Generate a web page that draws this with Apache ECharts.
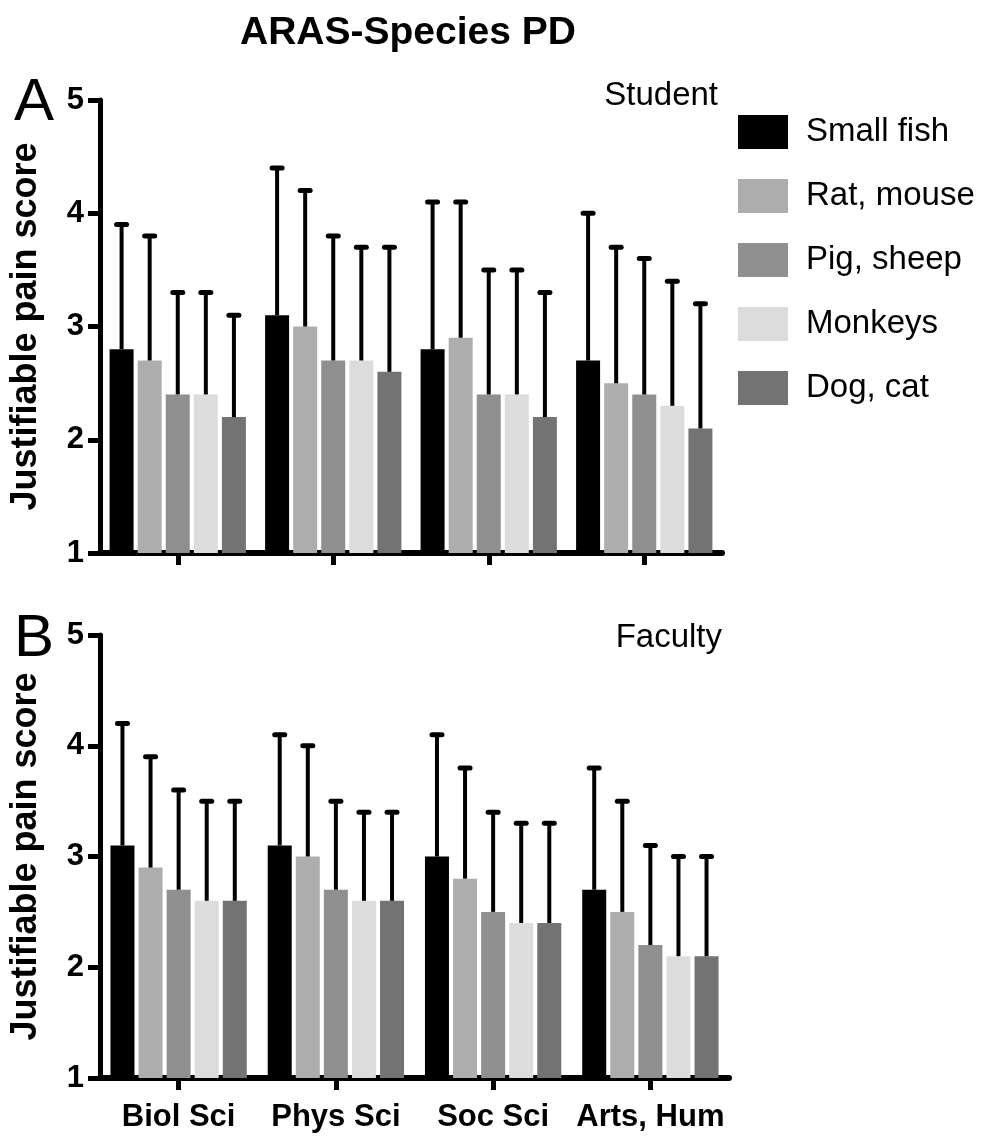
<!DOCTYPE html>
<html>
<head>
<meta charset="utf-8">
<script src="https://cdn.jsdelivr.net/npm/echarts@6/dist/echarts.min.js"></script>
<style>
html,body{margin:0;padding:0;background:#fff;}
#chart{width:993px;height:1137px;}
</style>
</head>
<body>
<div id="chart"></div>
<script>
// ---- data ----
const categories = ['Biol Sci', 'Phys Sci', 'Soc Sci', 'Arts, Hum'];
const species = ['Small fish', 'Rat, mouse', 'Pig, sheep', 'Monkeys', 'Dog, cat'];
const yTicks = [1, 2, 3, 4, 5];

// Student (panel A): means per species, per category
const studentMean = [
  [2.8, 3.1, 2.8, 2.7],  // Small fish
  [2.7, 3.0, 2.9, 2.5],  // Rat, mouse
  [2.4, 2.7, 2.4, 2.4],  // Pig, sheep
  [2.4, 2.7, 2.4, 2.3],  // Monkeys
  [2.2, 2.6, 2.2, 2.1]   // Dog, cat
];
const studentUpper = [
  [3.9, 4.4, 4.1, 4.0],
  [3.8, 4.2, 4.1, 3.7],
  [3.3, 3.8, 3.5, 3.6],
  [3.3, 3.7, 3.5, 3.4],
  [3.1, 3.7, 3.3, 3.2]
];
// Faculty (panel B)
const facultyMean = [
  [3.1, 3.1, 3.0, 2.7],
  [2.9, 3.0, 2.8, 2.5],
  [2.7, 2.7, 2.5, 2.2],
  [2.6, 2.6, 2.4, 2.1],
  [2.6, 2.6, 2.4, 2.1]
];
const facultyUpper = [
  [4.2, 4.1, 4.1, 3.8],
  [3.9, 4.0, 3.8, 3.5],
  [3.6, 3.5, 3.4, 3.1],
  [3.5, 3.4, 3.3, 3.0],
  [3.5, 3.4, 3.3, 3.0]
];

const colors = ['#000000', '#adadad', '#8f8f8f', '#dcdcdc', '#737373'];
const FONT = "'Liberation Sans', Arial, sans-serif";
const BAR_W = 24;
const BAR_GAP = 0.17;

const chart = echarts.init(document.getElementById('chart'), null, {renderer: 'canvas'});

function makeYAxis(gridIndex) {
  return {
    type: 'value', gridIndex: gridIndex, min: 1, max: 5, interval: 1,
    name: 'Justifiable pain score', nameLocation: 'middle', nameGap: 56, nameRotate: 90,
    nameTextStyle: {fontFamily: FONT, fontWeight: 'bold', fontSize: 36, color: '#000'},
    axisLine: {show: true, lineStyle: {color: '#000', width: 5}},
    axisTick: {show: true, length: 12, lineStyle: {color: '#000', width: 5}},
    axisLabel: {fontFamily: FONT, fontWeight: 'bold', fontSize: 31, color: '#000', margin: 16,
      formatter: v => yTicks.includes(v) ? String(v) : ''},
    splitLine: {show: false}
  };
}
function makeXAxis(gridIndex, showLabel) {
  return {
    type: 'category', gridIndex: gridIndex, data: categories,
    axisLine: {show: true, lineStyle: {color: '#000', width: 6}},
    axisTick: {show: true, alignWithLabel: true, interval: 0, length: 12, lineStyle: {color: '#000', width: 5}},
    axisLabel: {show: showLabel, interval: 0, fontFamily: FONT, fontWeight: 'bold', fontSize: 31, color: '#000', margin: 24}
  };
}

function barSeries(means, idx) {
  return species.map((name, j) => ({
    type: 'bar', name: name, xAxisIndex: idx, yAxisIndex: idx,
    data: means[j], barWidth: BAR_W, barGap: (BAR_GAP * 100) + '%',
    itemStyle: {color: colors[j]}, z: 2
  }));
}
function errSeries(means, uppers, idx) {
  const data = [];
  for (let j = 0; j < species.length; j++) {
    for (let c = 0; c < categories.length; c++) {
      data.push([c, means[j][c], uppers[j][c], j]);
    }
  }
  return {
    type: 'custom', xAxisIndex: idx, yAxisIndex: idx, z: 3,
    data: data, encode: {x: 0, y: 2},
    renderItem: function (params, api) {
      const c = api.value(0), m = api.value(1), u = api.value(2), j = api.value(3);
      const p0 = api.coord([c, m]);
      const p1 = api.coord([c, u]);
      const step = BAR_W * (1 + BAR_GAP);
      const x = p0[0] + (j - (species.length - 1) / 2) * step;
      return {
        type: 'group',
        children: [
          {type: 'line', shape: {x1: x, y1: p0[1], x2: x, y2: p1[1]},
           style: {stroke: '#000', lineWidth: 4}},
          {type: 'line', shape: {x1: x - 5, y1: p1[1], x2: x + 5, y2: p1[1]},
           style: {stroke: '#000', lineWidth: 5, lineCap: 'round'}}
        ]
      };
    }
  };
}

const option = {
  backgroundColor: '#fff',
  animation: false,
  grid: [
    {left: 96, top: 100, width: 626, height: 453},
    {left: 97, top: 635, width: 632, height: 443}
  ],
  xAxis: [makeXAxis(0, false), makeXAxis(1, true)],
  yAxis: [makeYAxis(0), makeYAxis(1)],
  legend: {
    orient: 'vertical', left: 733, top: 110,
    data: species, icon: 'rect', itemWidth: 50, itemHeight: 34, itemGap: 30,
    textStyle: {fontFamily: FONT, fontSize: 33, color: '#000', padding: [0, 0, 0, 13]},
    selectedMode: false
  },
  graphic: [
    {type: 'text', x: 408, y: 33, style: {text: 'ARAS-Species PD', font: "bold 39px " + FONT, fill: '#000', textAlign: 'center', textVerticalAlign: 'middle'}},
    {type: 'text', x: 718, y: 96, style: {text: 'Student', font: "33px " + FONT, fill: '#000', textAlign: 'right', textVerticalAlign: 'middle'}},
    {type: 'text', x: 722, y: 638, style: {text: 'Faculty', font: "33px " + FONT, fill: '#000', textAlign: 'right', textVerticalAlign: 'middle'}},
    {type: 'text', x: 14, y: 103, style: {text: 'A', font: "60px " + FONT, fill: '#000', textVerticalAlign: 'middle'}},
    {type: 'text', x: 14, y: 639, style: {text: 'B', font: "60px " + FONT, fill: '#000', textVerticalAlign: 'middle'}}
  ],
  series: [].concat(
    barSeries(studentMean, 0),
    barSeries(facultyMean, 1),
    [errSeries(studentMean, studentUpper, 0), errSeries(facultyMean, facultyUpper, 1)]
  )
};
chart.setOption(option);
</script>
</body>
</html>
